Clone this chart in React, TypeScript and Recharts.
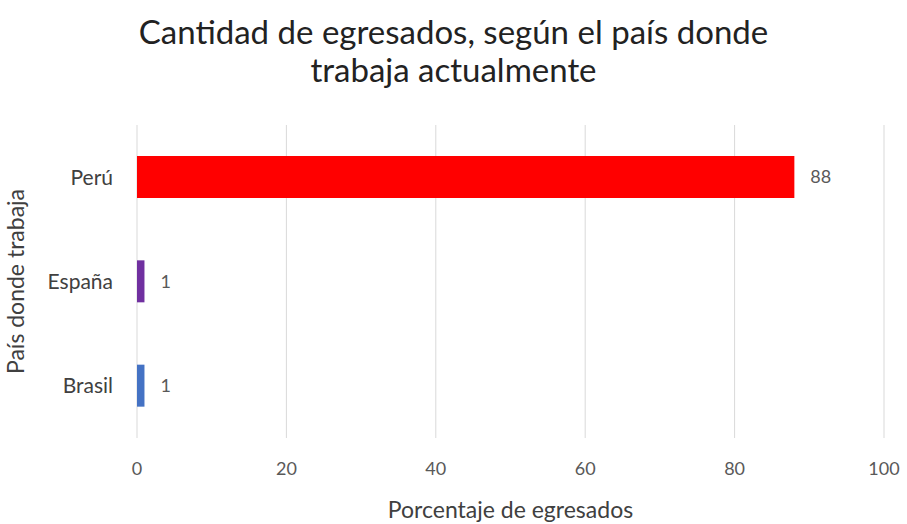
import { Bar, BarChart, CartesianGrid, Cell, LabelList, XAxis, YAxis, Label } from "recharts";

const countries = ["Perú", "España", "Brasil"];
const values = [88, 1, 1];
const colors = ["#FF0000", "#7030A0", "#4472C4"];
const xTicks = [0, 20, 40, 60, 80, 100];

const data = countries.map((c, i) => ({ country: c, value: values[i] }));

const font = "Lato, 'Open Sans', sans-serif";

export default function App() {
  return (
    <div style={{ position: "absolute", left: 0, top: 0, width: 907, height: 524, background: "#fff", fontFamily: font }}>
      <div
        style={{
          position: "absolute",
          left: 0,
          top: 12,
          width: 907,
          textAlign: "center",
          fontSize: 33,
          lineHeight: "38px",
          color: "#222",
        }}
      >
        Cantidad de egresados, según el país donde
        <br />
        trabaja actualmente
      </div>
      <BarChart
        width={907}
        height={524}
        data={data}
        layout="vertical"
        margin={{ top: 125, right: 23, bottom: 0, left: 0 }}
        barCategoryGap={0}
      >
        <CartesianGrid horizontal={false} stroke="#d9d9d9" />
        <XAxis
          type="number"
          domain={[0, 100]}
          ticks={xTicks}
          axisLine={false}
          tickLine={false}
          height={86}
          tickMargin={18}
          tick={{ fontSize: 18, fill: "#595959", fontFamily: font }}
        >
          <Label
            value="Porcentaje de egresados"
            position="insideBottom"
            offset={0}
            dy={-6}
            style={{ fontSize: 23, fill: "#404040", fontFamily: font }}
          />
        </XAxis>
        <YAxis
          type="category"
          dataKey="country"
          width={137}
          axisLine={false}
          tickLine={false}
          tickMargin={18}
          tick={{ fontSize: 21, fill: "#404040", fontFamily: font }}
        >
          <Label
            value="País donde trabaja"
            angle={-90}
            position="insideLeft"
            offset={0}
            dx={16}
            style={{ textAnchor: "middle", fontSize: 23, fill: "#404040", fontFamily: font }}
          />
        </YAxis>
        <Bar dataKey="value" barSize={42} isAnimationActive={false}>
          {data.map((d, i) => (
            <Cell key={d.country} fill={colors[i]} />
          ))}
          <LabelList
            dataKey="value"
            position="right"
            offset={16}
            style={{ fontSize: 18, fill: "#595959", fontFamily: font }}
          />
        </Bar>
      </BarChart>
    </div>
  );
}
